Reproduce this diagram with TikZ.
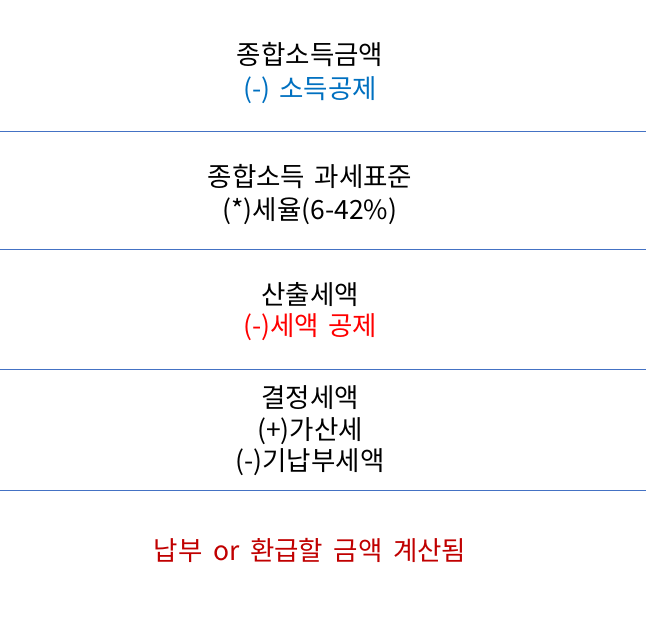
\documentclass[tikz,border=0pt]{standalone}
\usepackage{fontspec}
\setmainfont{Noto Sans CJK KR}
\definecolor{sepblue}{HTML}{4472C4}
\definecolor{txtblue}{HTML}{0070C0}
\definecolor{txtred}{HTML}{FF0000}
\definecolor{txtdark}{HTML}{C00000}
\begin{document}
\begin{tikzpicture}[x=1pt,y=-1pt,
  lbl/.style={inner sep=0pt,font=\fontsize{26.5}{32}\selectfont},
  sep/.style={draw=sepblue,line width=0.9pt}]
\useasboundingbox (0,0) rectangle (646,623);
\node[lbl] (a1) at (310,55) {종합소득금액};
\node[lbl,text=txtblue] (a2) at (310,90) {(-)\hspace{0.35em}소득공제};
\coordinate (l1a) at (0,131); \coordinate (l1b) at (646,131);
\draw[sep] (l1a) -- (l1b);
\node[lbl] (b1) at (310,177) {종합소득\hspace{0.35em}과세표준};
\node[lbl] (b2) at (310,211) {(*)세율(6-42\%)};
\coordinate (l2a) at (0,249); \coordinate (l2b) at (646,249);
\draw[sep] (l2a) -- (l2b);
\node[lbl] (c1) at (310,295) {산출세액};
\node[lbl,text=txtred] (c2) at (310,327) {(-)세액\hspace{0.35em}공제};
\coordinate (l3a) at (0,369); \coordinate (l3b) at (646,369);
\draw[sep] (l3a) -- (l3b);
\node[lbl] (d1) at (310,398) {결정세액};
\node[lbl] (d2) at (310,431) {(+)가산세};
\node[lbl] (d3) at (310,462) {(-)기납부세액};
\coordinate (l4a) at (0,490); \coordinate (l4b) at (646,490);
\draw[sep] (l4a) -- (l4b);
\node[lbl,text=txtdark] (e1) at (310,550) {납부\hspace{0.4em}or\hspace{0.4em}환급할\hspace{0.4em}금액\hspace{0.4em}계산됨};
\end{tikzpicture}
\end{document}
